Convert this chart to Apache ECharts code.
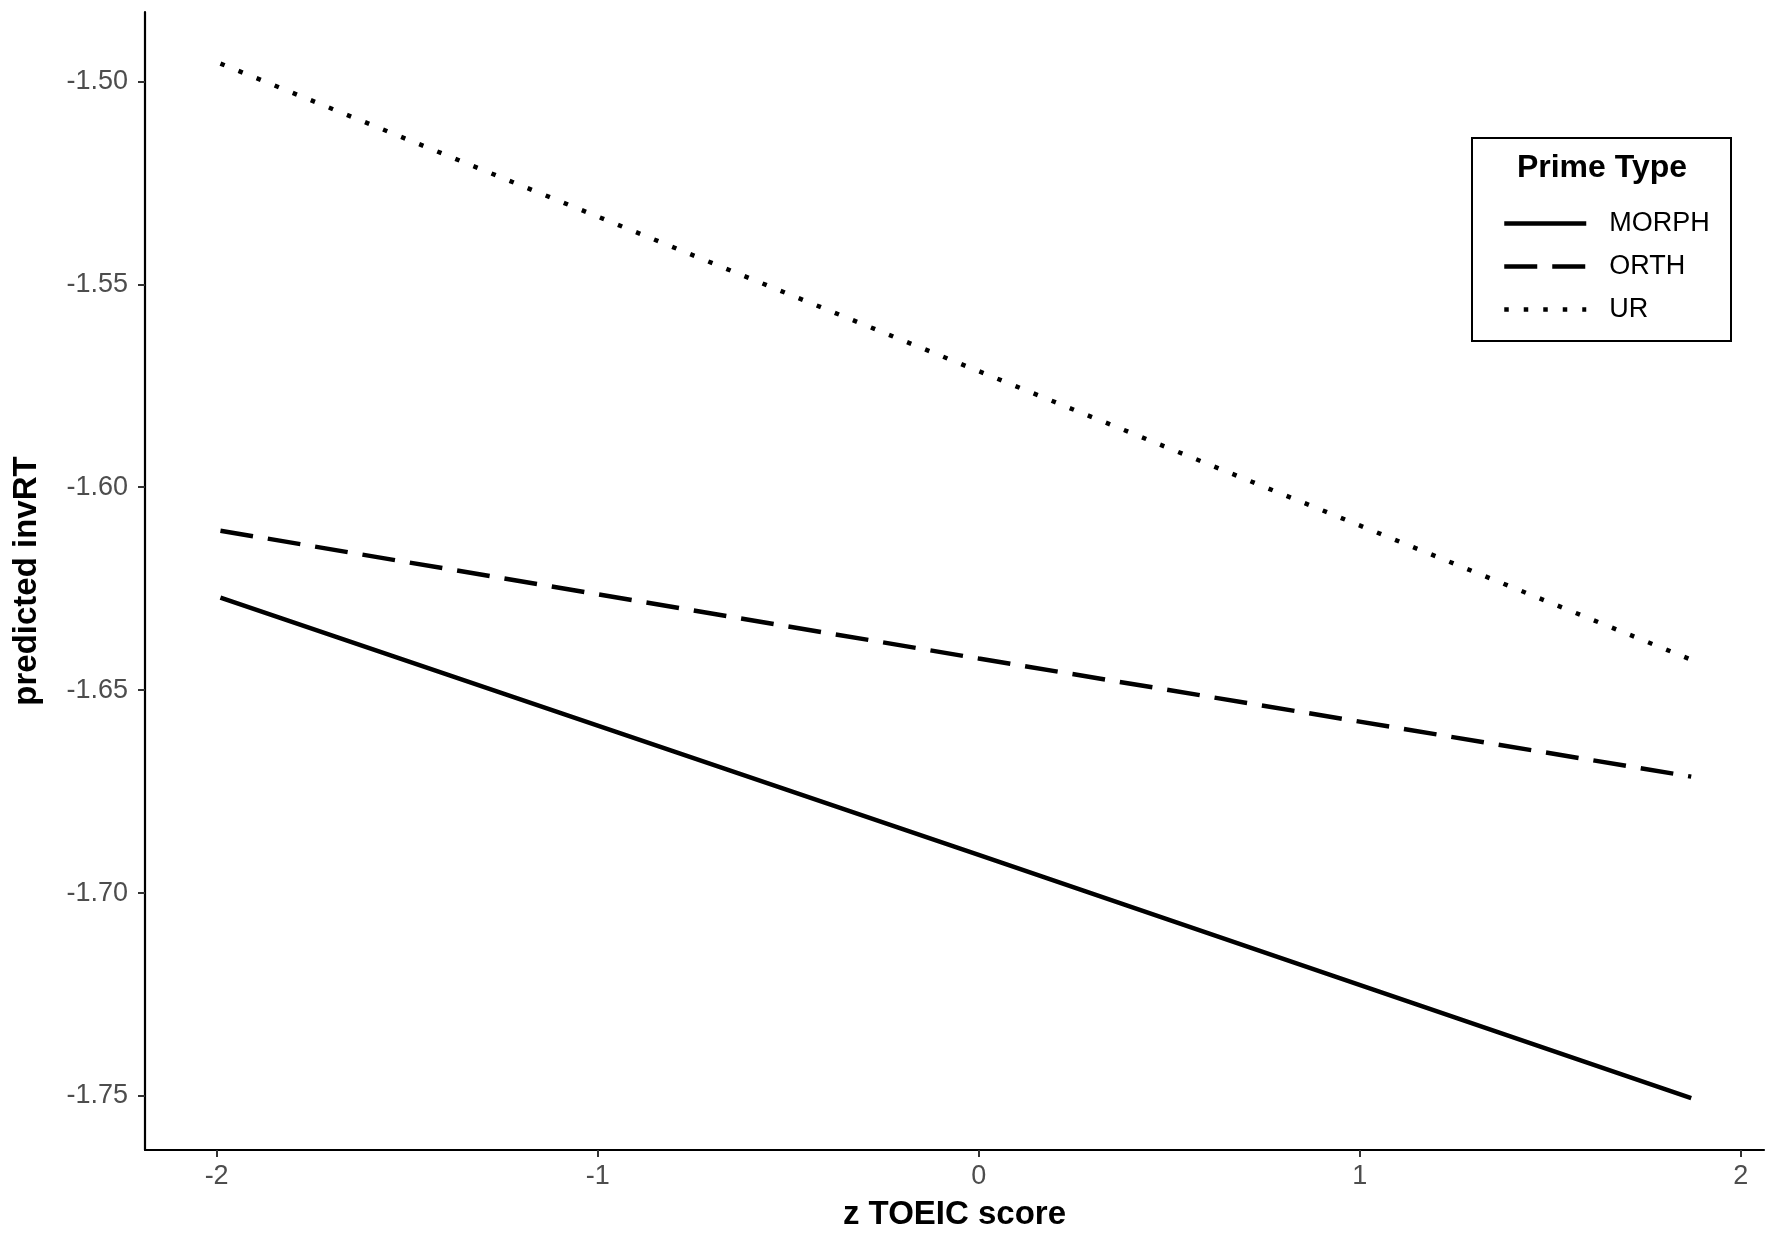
<!DOCTYPE html>
<html>
<head>
<meta charset="utf-8">
<script src="https://cdn.jsdelivr.net/npm/echarts@6/dist/echarts.min.js"></script>
<style>
  html, body { margin: 0; padding: 0; background: #fff; }
  #chart { width: 1772px; height: 1236px; }
</style>
</head>
<body>
<div id="chart"></div>
<script>
  var zScore = [-1.99, 0, 1.87];
  var morph = [-1.6272, -1.6906, -1.7505];
  var orth = [-1.6107, -1.6422, -1.6713];
  var ur = [-1.4956, -1.5714, -1.6425];
  var xTicks = [-2, -1, 0, 1, 2];
  var yTicks = [-1.75, -1.70, -1.65, -1.60, -1.55, -1.50];

  function pairs(ys) {
    var out = [];
    for (var i = 0; i < zScore.length; i++) {
      out.push([zScore[i], ys[i]]);
    }
    return out;
  }

  var font = 'Liberation Sans';
  var lineW = 4.5;

  function makeLine(name, ys, dash) {
    return {
      name: name,
      type: 'line',
      data: pairs(ys),
      symbol: 'none',
      showSymbol: false,
      animation: false,
      itemStyle: { color: '#000' },
      lineStyle: {
        color: '#000',
        width: lineW,
        type: dash,
        cap: 'butt'
      }
    };
  }

  var chart = echarts.init(document.getElementById('chart'));
  chart.setOption({
    backgroundColor: '#fff',
    animation: false,
    grid: {
      left: 145,
      right: 8,
      top: 12,
      bottom: 83,
      containLabel: false
    },
    xAxis: {
      type: 'value',
      min: -2.188,
      max: 2.061,
      name: 'z TOEIC score',
      nameLocation: 'middle',
      nameGap: 48,
      nameTextStyle: {
        fontFamily: font,
        fontWeight: 'bold',
        fontSize: 33,
        color: '#000'
      },
      axisLine: { show: true, onZero: false, lineStyle: { color: '#000', width: 2.2 } },
      axisTick: {
        show: true,
        length: 7,
        customValues: xTicks,
        lineStyle: { color: '#333', width: 2 }
      },
      axisLabel: {
        customValues: xTicks,
        margin: 13,
        fontFamily: font,
        fontSize: 27,
        color: '#4d4d4d'
      },
      splitLine: { show: false }
    },
    yAxis: {
      type: 'value',
      min: -1.7633,
      max: -1.4829,
      name: 'predicted invRT',
      nameLocation: 'middle',
      nameGap: 102,
      nameRotate: 90,
      nameTextStyle: {
        fontFamily: font,
        fontWeight: 'bold',
        fontSize: 33,
        color: '#000'
      },
      axisLine: { show: true, onZero: false, lineStyle: { color: '#000', width: 2.2 } },
      axisTick: {
        show: true,
        length: 7,
        customValues: yTicks,
        lineStyle: { color: '#333', width: 2 }
      },
      axisLabel: {
        customValues: yTicks,
        margin: 17,
        fontFamily: font,
        fontSize: 27,
        color: '#4d4d4d',
        formatter: function (v) { return v.toFixed(2); }
      },
      splitLine: { show: false }
    },
    legend: {
      orient: 'vertical',
      left: 1497,
      top: 205,
      itemWidth: 82,
      itemHeight: 6,
      itemGap: 16,
      itemStyle: { opacity: 0 },
      lineStyle: { color: '#000', width: lineW, type: 'inherit', cap: 'butt' },
      textStyle: {
        fontFamily: font,
        fontSize: 27,
        color: '#000',
        padding: [0, 0, 0, 18]
      },
      data: ['MORPH', 'ORTH', 'UR']
    },
    graphic: [
      {
        type: 'rect',
        shape: { x: 1472, y: 138, width: 259, height: 203 },
        style: { fill: '#fff', stroke: '#000', lineWidth: 2 },
        z: -1
      },
      {
        type: 'text',
        x: 1602,
        y: 168,
        style: {
          text: 'Prime Type',
          fontFamily: font,
          fontWeight: 'bold',
          fontSize: 32,
          fill: '#000',
          align: 'center',
          verticalAlign: 'middle'
        }
      }
    ],
    series: [
      makeLine('MORPH', morph, 'solid'),
      makeLine('ORTH', orth, [33, 15]),
      makeLine('UR', ur, [4.5, 15])
    ]
  });
</script>
</body>
</html>
